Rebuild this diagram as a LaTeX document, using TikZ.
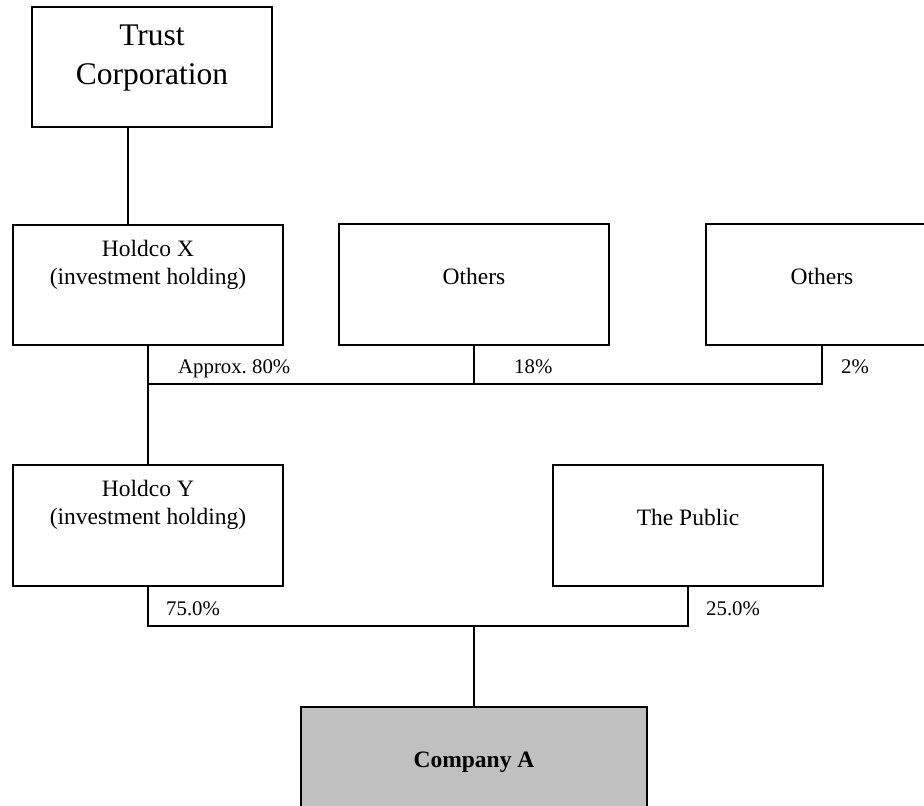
\documentclass[tikz,border=0pt]{standalone}
\usepackage{fontspec}
\setmainfont{Liberation Serif}
\usetikzlibrary{calc,positioning}
\definecolor{coAColor}{HTML}{C0C0C0}
\newcommand{\boxfnt}{\fontsize{23.5}{27.7}\selectfont}
\newcommand{\pctfnt}{\fontsize{20.8}{24}\selectfont}
\newcommand{\trustfnt}{\fontsize{31.5}{38.3}\selectfont}
\frenchspacing

\begin{document}
\begin{tikzpicture}[x=1pt, y=-1pt,
		entity/.style={draw, line width=1.8pt, inner sep=0, minimum width=270pt, minimum height=121pt},
		inside/.style={anchor=base, inner sep=0, font=\boxfnt},
		pct/.style={anchor=base west, inner sep=0, font=\pctfnt},
		link/.style={line width=1.5pt}]
	
	\clip (0,0) rectangle (924,806);
	
	%% owners
	\node[entity, minimum width=240pt, minimum height=120pt,
		label={[inside, font=\trustfnt, yshift=-39.7pt]north:{\begin{tabular}[t]{@{}c@{}} Trust\\ Corporation \end{tabular}}}] (trust) at (152, 67) {};
	\node[entity, minimum width=270pt, minimum height=120pt,
		label={[inside, yshift=-32.5pt]north:{\begin{tabular}[t]{@{}c@{}} Holdco X\\ (investment holding) \end{tabular}}}] (holdX) at (148, 285) {};
	\node[entity, label={[inside, yshift=-61pt]north:Others}] (oth1) at (474, 284.5) {};
	\node[entity, minimum width=232pt, label={[inside, yshift=-61pt]north:Others}] (oth2) at (822, 284.5) {};
	
	\node[entity, label={[inside, yshift=-32.5pt]north:{\begin{tabular}[t]{@{}c@{}} Holdco Y\\ (investment holding) \end{tabular}}}] (holdY) at (148, 525.5) {};
	\node[entity, label={[inside, yshift=-61pt]north:The Public}] (public) at (688, 525.5) {};
	
	\node[entity, fill=coAColor, minimum width=346pt, label={[inside, yshift=-61pt]north:\textbf{Company A}}] (compA) at (474, 767.5) {};
	
	%% lines
	\coordinate (bus1) at (0, 384);
	\coordinate (bus2) at (0, 626);
	\coordinate (tx) at ($(trust.south west)!.4!(trust.south east)$);
	
	\draw[link] (tx) -- (tx |- holdX.north);
	\draw[link] (holdX.south) -- (holdX.south |- holdY.north);
	\draw[link] (oth1.south) -- (oth1.south |- bus1);
	\draw[link] (oth2.south) -- (oth2.south |- bus1) -- (holdX.south |- bus1);
	\draw[link] (holdY.south) -- (holdY.south |- bus2) -- (public.south |- bus2) -- (public.south);
	\draw[link] (compA.north) -- (compA.north |- bus2);
	
	%% shares
	\node[pct] (p80) at (178, 373) {Approx. 80\%};
	\node[pct] (p18) at (514, 373) {18\%};
	\node[pct] (p2) at (841, 373) {2\%};
	\node[pct] (p75) at (166, 615) {75.0\%};
	\node[pct] (p25) at (706, 615) {25.0\%};
\end{tikzpicture}
\end{document}
